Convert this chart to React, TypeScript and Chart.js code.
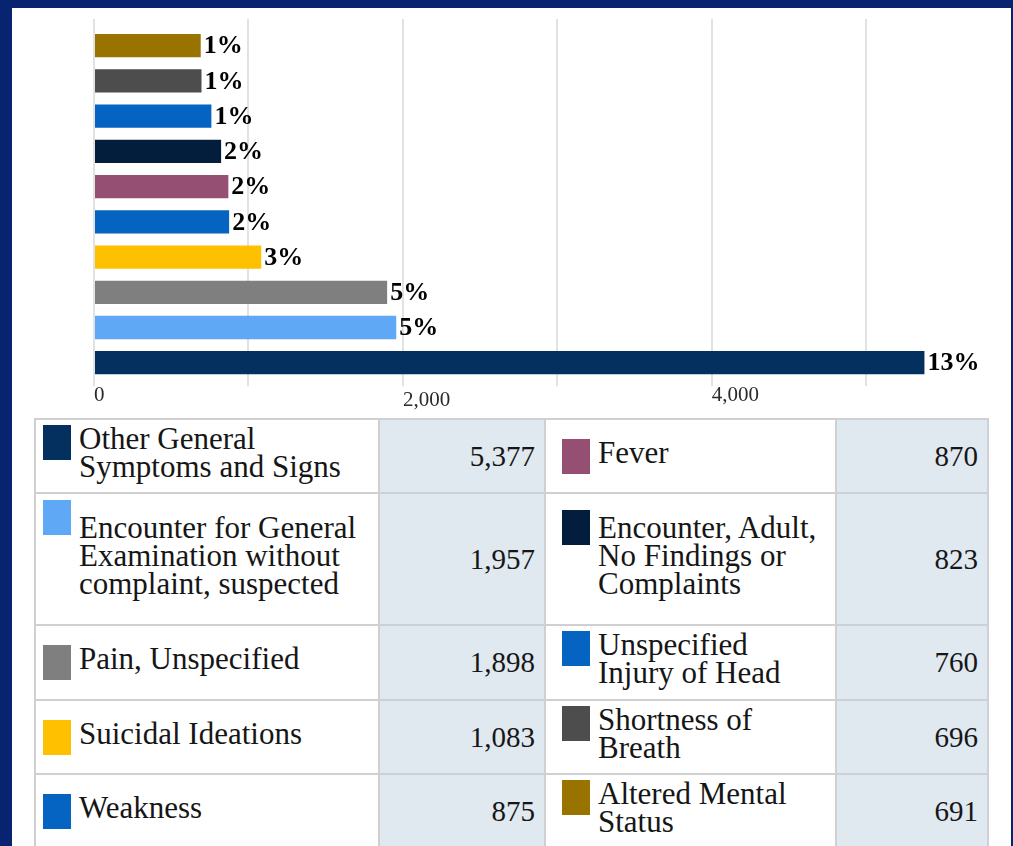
import React, { useEffect, useRef } from "react";
import { Chart, registerables } from "chart.js";

Chart.register(...registerables);

// ---- data ----
const categories = [
  "Other General\nSymptoms and Signs",
  "Encounter for General\nExamination without\ncomplaint, suspected",
  "Pain, Unspecified",
  "Suicidal Ideations",
  "Weakness",
  "Fever",
  "Encounter, Adult,\nNo Findings or\nComplaints",
  "Unspecified\nInjury of Head",
  "Shortness of\nBreath",
  "Altered Mental\nStatus",
];
const values = [5377, 1957, 1898, 1083, 875, 870, 823, 760, 696, 691];
const percents = ["13%", "5%", "5%", "3%", "2%", "2%", "2%", "1%", "1%", "1%"];
const colors = [
  "#03305e",
  "#5ea8f5",
  "#7f7f7f",
  "#ffc000",
  "#0563c1",
  "#954f72",
  "#021e3c",
  "#0563c1",
  "#4d4d4d",
  "#997300",
];
const gridValues = [0, 1000, 2000, 3000, 4000, 5000];
const tickValues = [0, 2000, 4000];
const tickLabels = ["0", "2,000", "4,000"];

const NAVY = "rgb(8,35,112)";
const GRID = "#e2e2e2";
const SERIF = '"Liberation Serif", "Times New Roman", serif';

const setGridTicks = (scale: any) => {
  scale.ticks = gridValues.map((v) => ({ value: v }));
};

const pctPlugin = {
  id: "pctLabels",
  afterDatasetsDraw(chart: any) {
    const meta = chart.getDatasetMeta(0);
    const ctx = chart.ctx;
    ctx.save();
    ctx.font = `bold 26px ${SERIF}`;
    ctx.fillStyle = "#000";
    ctx.textBaseline = "middle";
    ctx.textAlign = "left";
    meta.data.forEach((bar: any, i: number) => {
      ctx.fillText(percents[i], bar.x + 3, bar.y + 1);
    });
    ctx.restore();
  },
};

function LabelCell({ idx, padLeft, shift }: { idx: number; padLeft: number; shift: number }) {
  return (
    <div
      style={{
        boxSizing: "border-box",
        borderRight: "2px solid #d0d0d0",
        borderBottom: "2px solid #d0d0d0",
        display: "flex",
        alignItems: "center",
        paddingLeft: padLeft,
        background: "#fff",
      }}
    >
      <div style={{ display: "flex", alignItems: "flex-start" }}>
        <div
          style={{
            width: 28,
            height: 35,
            flex: "none",
            background: colors[idx],
            position: "relative",
            top: shift,
          }}
        />
        <div
          style={{
            marginLeft: 8,
            fontFamily: SERIF,
            fontSize: 31,
            lineHeight: "28px",
            whiteSpace: "pre",
            color: "#161616",
            paddingBottom: 7,
          }}
        >
          {categories[idx]}
        </div>
      </div>
    </div>
  );
}

function ValueCell({ idx }: { idx: number }) {
  return (
    <div
      style={{
        boxSizing: "border-box",
        borderRight: "2px solid #cdd1d5",
        borderBottom: "2px solid #cdd1d5",
        background: "#e0e8f0",
        display: "flex",
        alignItems: "center",
        justifyContent: "flex-end",
        paddingRight: 9,
        fontFamily: SERIF,
        fontSize: 29,
        color: "#161616",
      }}
    >
      {values[idx].toLocaleString("en-US")}
    </div>
  );
}

export default function App() {
  const canvasRef = useRef<HTMLCanvasElement | null>(null);

  useEffect(() => {
    if (!canvasRef.current) return;
    const chart = new Chart(canvasRef.current, {
      type: "bar",
      data: {
        labels: categories.map((c) => c.replace(/\n/g, " ")),
        datasets: [
          {
            data: values,
            backgroundColor: colors,
            borderWidth: 0,
            barPercentage: 0.66,
            categoryPercentage: 1,
          },
        ],
      },
      options: {
        indexAxis: "y",
        responsive: false,
        animation: false,
        layout: { padding: { left: 82, right: 83, top: 11, bottom: 3 } },
        plugins: { legend: { display: false }, tooltip: { enabled: false } },
        scales: {
          x: {
            type: "linear",
            position: "bottom",
            min: 0,
            max: 5400,
            afterBuildTicks: setGridTicks,
            border: { display: false },
            grid: { color: GRID, lineWidth: 2, tickLength: 6, drawTicks: true },
            ticks: {
              autoSkip: false,
              maxRotation: 0,
              align: "start",
              padding: -3,
              color: "#2a2a2a",
              font: (ctx: any) => ({
                family: SERIF,
                size: 21,
                lineHeight: ctx.tick && ctx.tick.value === 2000 ? 1.65 : 1.2,
              }),
              callback: (v: any) => {
                const i = tickValues.indexOf(Number(v));
                return i >= 0 ? tickLabels[i] : "";
              },
            },
          },
          x2: {
            type: "linear",
            position: "top",
            min: 0,
            max: 5400,
            afterBuildTicks: setGridTicks,
            border: { display: false },
            grid: { color: GRID, lineWidth: 2, tickLength: 9, drawOnChartArea: false },
            ticks: { display: false },
          },
          y: { reverse: true, display: false },
        },
      } as any,
      plugins: [pctPlugin],
    });
    return () => chart.destroy();
  }, []);

  const leftIdx = [0, 1, 2, 3, 4];
  const rightIdx = [5, 6, 7, 8, 9];
  const rowHeights = [74, 132, 75, 74, 74];
  const shiftsL = [0, -14, 0, 0, 0];
  const shiftsR = [0, -4, 0, 0, 0];

  return (
    <div
      style={{
        position: "relative",
        width: 1013,
        height: 846,
        background: NAVY,
        overflow: "hidden",
      }}
    >
      <style>{`html,body{margin:0;padding:0;overflow:hidden;}`}</style>
      <div
        style={{
          position: "absolute",
          left: 12,
          top: 8,
          width: 999,
          height: 900,
          background: "#fff",
        }}
      >
        <canvas ref={canvasRef} width={999} height={410} style={{ display: "block" }} />
        <div
          style={{
            position: "absolute",
            left: 22,
            top: 410,
            display: "grid",
            gridTemplateColumns: "344px 166px 291px 152px",
            gridTemplateRows: rowHeights.map((h) => `${h}px`).join(" "),
            borderLeft: "2px solid #d0d0d0",
            borderTop: "2px solid #d0d0d0",
          }}
        >
          {leftIdx.map((li, r) => (
            <React.Fragment key={r}>
              <LabelCell idx={li} padLeft={7} shift={shiftsL[r]} />
              <ValueCell idx={li} />
              <LabelCell idx={rightIdx[r]} padLeft={16} shift={shiftsR[r]} />
              <ValueCell idx={rightIdx[r]} />
            </React.Fragment>
          ))}
        </div>
      </div>
    </div>
  );
}
